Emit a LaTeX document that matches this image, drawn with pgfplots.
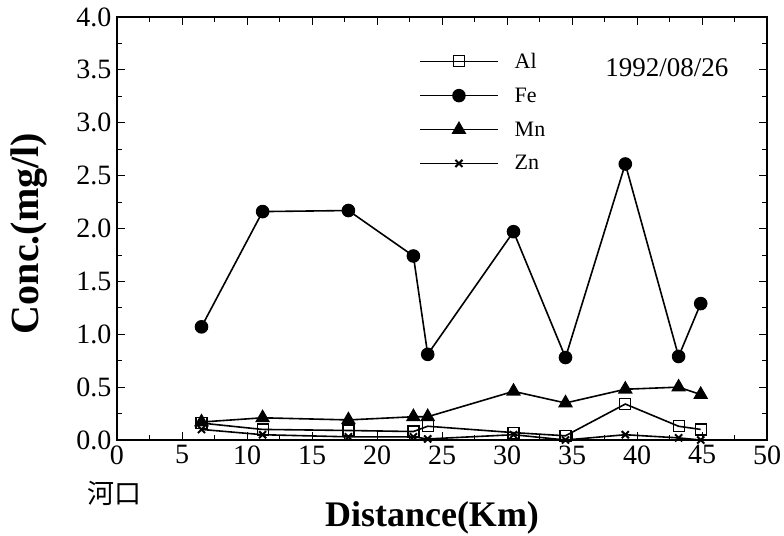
\documentclass[border=0pt]{standalone}
\usepackage{pgfplots}
\pgfplotsset{compat=1.18}
\usepackage{fontspec}
\setmainfont{Liberation Serif}
\newfontfamily\cjk{Noto Sans CJK TC}
\begin{document}
\begin{tikzpicture}
\begin{axis}[
  scale only axis, width=650pt, height=423pt,
  xmin=0, xmax=50, ymin=0, ymax=4,
  xtick={0,5,...,50}, ytick={0,0.5,...,4},
  minor x tick num=1, minor y tick num=1,
  major tick length=8pt, minor tick length=5pt,
  tick style={black, line width=0.8pt},
  axis line style={line width=1.2pt},
  /pgf/number format/assume math mode=true,
  tick label style={font=\fontsize{28}{30}\selectfont},
  yticklabel style={/pgf/number format/fixed,/pgf/number format/fixed zerofill,/pgf/number format/precision=1, xshift=-2pt},
  xticklabel style={yshift=-2pt},
  xlabel={\textbf{Distance(Km)}},
  ylabel={\textbf{Conc.(mg/l)}},
  xlabel style={font=\fontsize{36}{40}\selectfont, yshift=-30pt, xshift=-10pt},
  ylabel style={font=\fontsize{40}{44}\selectfont, yshift=22pt, xshift=-5pt},
  legend style={at={(axis cs:23.0,3.70)}, anchor=north west, draw=none, fill=none,
    font=\fontsize{22}{24}\selectfont, row sep=14pt, column sep=14pt},
  legend cell align=left,
  legend image code/.code={\draw[line width=1.5pt, mark repeat=2,mark phase=2,#1] plot coordinates {(0pt,0pt) (39pt,0pt) (78pt,0pt)};},
]
\addplot[black, line width=1.6pt, mark=square, mark options={fill=white, solid, line width=1.2pt}, mark size=5.5pt] coordinates {
(6.5,0.16) (11.2,0.10) (17.8,0.09) (22.8,0.08) (23.9,0.13) (30.5,0.07) (34.5,0.04) (39.1,0.34) (43.2,0.13) (44.9,0.10)};
\addlegendentry{Al}
\addplot[black, line width=1.6pt, mark=*, mark options={fill=black, solid}, mark size=6pt] coordinates {
(6.5,1.07) (11.2,2.16) (17.8,2.17) (22.8,1.74) (23.9,0.81) (30.5,1.97) (34.5,0.78) (39.1,2.61) (43.2,0.79) (44.9,1.29)};
\addlegendentry{Fe}
\addplot[black, line width=1.6pt, mark=triangle*, mark options={fill=black, solid}, mark size=7pt] coordinates {
(6.5,0.17) (11.2,0.21) (17.8,0.19) (22.8,0.22) (23.9,0.22) (30.5,0.46) (34.5,0.35) (39.1,0.48) (43.2,0.50) (44.9,0.43)};
\addlegendentry{Mn}
\addplot[black, line width=1.6pt, mark=x, mark options={solid, line width=2pt}, mark size=5pt] coordinates {
(6.5,0.10) (11.2,0.05) (17.8,0.03) (22.8,0.03) (23.9,0.01) (30.5,0.05) (34.5,0.00) (39.1,0.05) (43.2,0.02) (44.9,0.00)};
\addlegendentry{Zn}
\node[font=\fontsize{27}{30}\selectfont] at (axis cs:42.3,3.52) {1992/08/26};
\end{axis}
\node[font=\cjk\fontsize{27}{30}\selectfont] at ([shift={(-3pt,-53pt)}]current axis.south west) {河口};
\pgfresetboundingbox
\path ([shift={(-117pt,-95pt)}]current axis.south west) rectangle ([shift={(17pt,17pt)}]current axis.north east);
\end{tikzpicture}
\end{document}
